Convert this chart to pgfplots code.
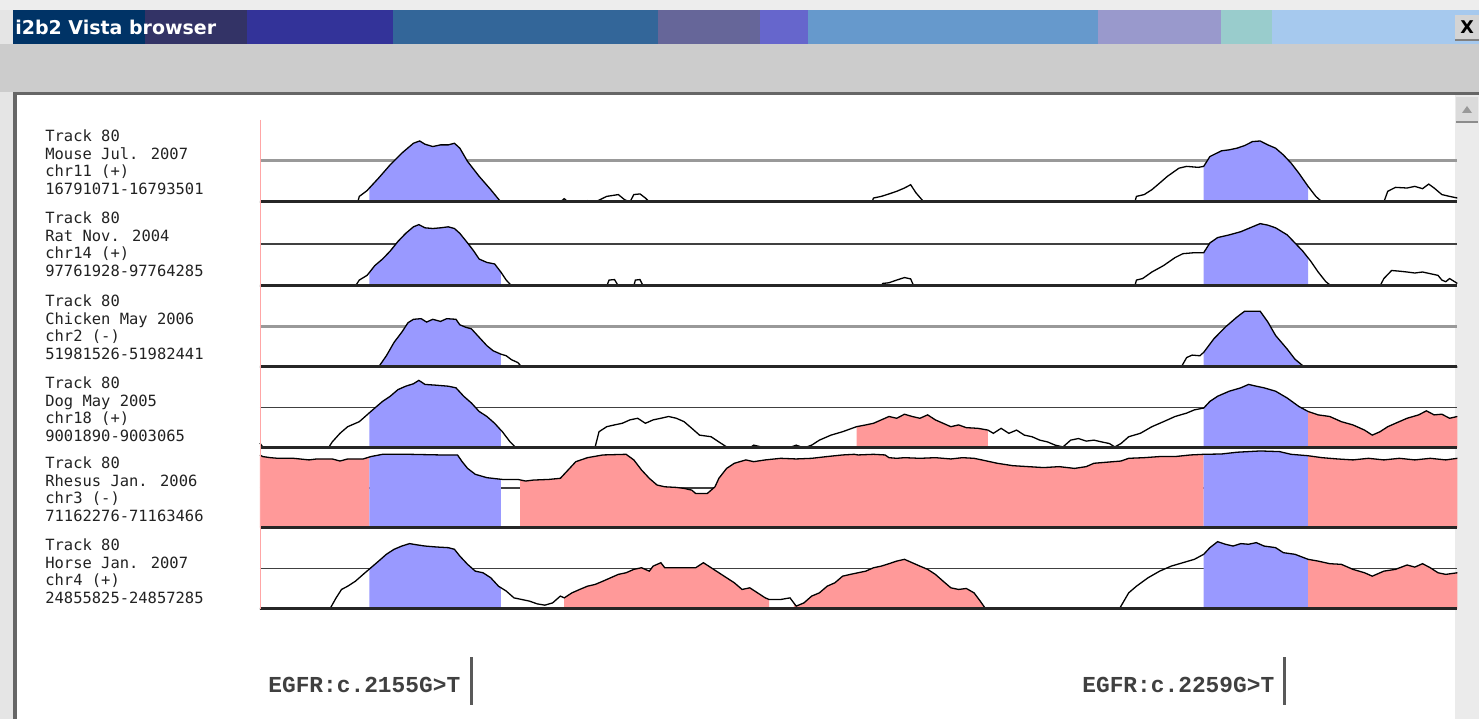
\documentclass[border=0pt]{standalone}
\usepackage{pgfplots}
\pgfplotsset{compat=1.18}
\usepackage{pgfplotstable}
\usepackage{fontspec}
\newfontfamily\labelfont{DejaVu Sans Mono}
\newfontfamily\titlefont{DejaVu Sans}
\newfontfamily\codefont{Liberation Mono}
\definecolor{vblue}{HTML}{9999FF}
\definecolor{vpink}{HTML}{FF9999}
\definecolor{tb1}{HTML}{003366}
\definecolor{tb2}{HTML}{333366}
\definecolor{tb3}{HTML}{333399}
\definecolor{tb4}{HTML}{336699}
\definecolor{tb5}{HTML}{666699}
\definecolor{tb6}{HTML}{6666CC}
\definecolor{tb7}{HTML}{6699CC}
\definecolor{tb8}{HTML}{9999CC}
\definecolor{tb9}{HTML}{99CCCC}
\definecolor{tb10}{HTML}{A6C9EE}
\definecolor{chrome}{HTML}{CCCCCC}
\definecolor{labgray}{HTML}{222222}

% conservation curves: x = alignment position, y = % identity (50-100)
\pgfplotstableread{
x y
6.5 50
133 50
135 53.4
145 56.9
148 58.5
150 59.5
160 64.6
175 72.7
190 79.8
205 85.8
213 87.2
220 85.2
230 83.8
240 84.8
250 84.8
258 85.8
265 82.8
275 74.7
290 65.6
305 57.5
318 50
395 50
400 52.0
405 50
430 50.8
440 50
455 53.4
470 54.5
478 51.4
485 50
490 54.5
498 54.9
505 52.4
510 50
798 50
800 52.4
810 53.4
820 54.9
830 56.5
840 58.5
848 60.5
855 55.5
865 50
1138 50
1140 53.4
1150 54.5
1160 57.5
1170 61.5
1180 65.6
1195 70.6
1205 71.7
1220 71.1
1227 71.7
1235 77.7
1250 81.2
1260 81.8
1270 82.8
1280 84.4
1290 86.8
1300 87.2
1310 84.8
1320 82.8
1330 78.7
1340 73.7
1350 67.6
1362 59.5
1372 53.4
1380 50
1460 50
1465 56.5
1475 58.9
1490 58.5
1500 59.5
1510 58.1
1518 60.9
1525 58.5
1535 54.5
1545 53.4
1555 52.4
}\tMouse

\pgfplotstableread{
x y
6.5 50
130 50
135 53.5
145 56.3
148 58.0
155 62.1
165 66.0
175 70.8
185 76.5
195 81.3
205 85.2
212 86.5
220 84.6
230 84.2
240 84.6
250 85.2
258 84.2
265 81.3
275 75.6
283 70.8
290 66.0
300 64.0
310 63.1
318 58.3
325 53.5
332 50
455 50
458 53.5
465 53.8
470 50
490 50
492 53.5
498 53.8
502 50
810 50
812 51.5
820 51.9
830 53.5
840 55.0
848 54.2
852 50
1138 50
1140 53.5
1148 54.4
1160 58.3
1175 62.1
1190 66.9
1200 69.2
1215 69.8
1227 69.8
1235 75.6
1245 78.8
1260 80.4
1275 82.3
1290 85.2
1300 87.1
1310 86.2
1320 84.6
1335 80.4
1345 75.6
1355 70.8
1362 66.7
1365 65.0
1375 58.3
1385 52.5
1392 50
1455 50
1460 54.4
1470 59.2
1480 58.8
1490 58.3
1500 57.7
1510 58.3
1520 57.3
1530 56.3
1535 53.5
1540 52.5
1545 54.4
1555 51.5
}\tRat

\pgfplotstableread{
x y
6.5 50
148 50
160 50
170 56.9
180 65.2
190 71.5
198 77.3
205 79.4
215 79.8
222 77.7
230 79.4
240 78.1
248 79.8
260 79.4
265 76.0
272 74.6
280 73.5
290 68.3
300 63.1
308 60.0
318 57.9
325 56.9
332 54.4
340 52.7
345 50
1198 50
1205 55.8
1212 57.3
1222 56.9
1227 59.0
1240 67.3
1255 74.6
1270 80.8
1280 84.4
1300 84.4
1310 77.7
1320 69.4
1335 61.0
1345 54.8
1357 50
1362 50
1555 50
}\tChicken

\pgfplotstableread{
x y
6.5 53.0
10 50.6
15 50
95 50
100 53.7
110 59.0
120 63.1
135 66.2
145 70.4
148 71.7
155 74.6
165 78.7
175 81.9
185 86.0
195 88.1
205 89.6
212 91.7
220 89.2
235 88.7
250 88.1
260 87.1
270 81.9
280 77.7
290 72.5
300 69.4
310 65.2
318 61.0
320 60.0
330 53.7
338 50
438 50
440 50.6
445 60.0
455 63.1
465 64.2
475 65.2
485 67.3
495 68.3
505 65.2
515 67.3
525 68.3
535 69.4
545 68.3
555 66.2
565 62.1
575 57.9
590 56.9
600 53.7
612 50
640 50
645 51.7
655 50.6
665 50
675 50.6
690 50
700 51.7
710 50
720 51.7
730 54.8
745 57.9
760 60.0
778 63.1
790 64.2
800 65.2
810 67.3
820 69.4
830 68.3
840 70.8
850 69.4
860 68.3
870 70.4
880 67.3
890 65.2
900 63.1
910 64.2
920 62.5
935 62.1
948 61.0
955 59.0
965 62.1
975 59.0
985 61.0
995 57.9
1005 56.9
1015 54.8
1025 53.7
1035 51.7
1045 50.6
1055 54.8
1065 55.8
1075 54.2
1085 54.8
1095 53.7
1105 52.7
1112 50.6
1120 52.7
1130 56.9
1145 59.0
1160 63.1
1175 66.2
1190 69.4
1205 71.5
1215 73.5
1227 74.6
1235 78.7
1245 81.9
1260 85.0
1275 87.1
1285 89.2
1295 88.1
1305 87.1
1320 85.0
1335 80.8
1350 75.6
1362 72.5
1375 70.4
1390 69.4
1405 66.2
1420 64.2
1435 61.0
1445 57.9
1455 60.0
1465 63.1
1475 65.2
1490 68.3
1505 70.4
1515 72.9
1525 70.4
1535 70.8
1545 68.3
1555 69.4
}\tDog

\pgfplotstableread{
x y
6.5 95.6
10 94.6
20 93.9
30 93.5
50 93.5
70 92.5
80 93.1
100 93.1
110 91.8
120 93.1
140 93.1
148 94.3
150 94.6
165 96.0
200 96.0
240 95.6
262 95.6
268 91.4
275 87.2
285 83.5
300 81.4
318 80.4
320 80.3
340 80.3
343 80.0
350 79.3
360 79.9
380 80.3
395 81.0
405 86.2
415 91.4
430 93.9
450 95.6
480 96.0
490 92.5
500 86.2
510 81.0
520 76.8
530 75.7
545 75.3
555 74.7
565 73.6
570 71.5
585 71.5
595 75.7
600 81.0
610 87.2
620 90.4
635 92.5
645 91.4
660 92.5
680 93.5
700 93.1
720 93.5
740 94.6
760 95.6
775 96.0
780 95.6
800 96.0
815 95.6
820 93.9
830 93.5
840 93.9
860 93.5
880 93.9
900 93.1
915 93.9
930 93.5
940 92.5
960 90.4
980 88.9
1000 88.3
1020 87.7
1040 88.3
1060 87.2
1075 88.3
1085 90.4
1100 91.0
1120 91.8
1130 93.5
1150 93.9
1170 94.6
1190 94.6
1210 95.6
1227 96.0
1250 96.2
1270 97.3
1300 98.1
1325 97.7
1340 96.0
1360 95.2
1362 95.1
1380 93.9
1400 93.1
1420 92.5
1440 93.5
1460 92.5
1480 93.5
1500 92.5
1520 93.5
1540 92.5
1555 93.5
}\tRhesus

\pgfplotstableread{
x y
6.5 50
95 50
97 50
105 56.8
112 62.0
120 64.0
130 67.1
140 71.3
148 74.6
150 75.4
160 79.5
170 83.7
180 86.8
190 88.8
200 90.3
210 89.5
220 88.8
235 88.2
250 87.8
258 86.8
265 82.6
275 77.5
285 73.3
295 72.3
305 69.2
315 64.0
318 63.1
325 61.0
335 56.8
345 55.8
355 54.8
365 53.1
375 52.3
385 53.7
395 57.9
400 56.8
410 59.9
420 62.0
430 64.0
440 65.1
450 67.1
460 69.2
470 71.3
480 72.3
490 74.4
500 75.4
510 73.3
515 76.4
525 78.5
530 75.4
540 75.4
555 75.4
570 75.4
580 78.5
590 75.4
600 72.3
610 69.2
620 66.1
630 62.0
640 63.0
650 59.9
660 56.8
665 55.8
680 55.8
692 56.8
697 53.6
700 51.7
710 53.7
720 57.9
730 59.9
740 64.0
750 66.1
760 70.2
770 71.3
780 72.3
790 73.3
800 75.4
810 76.4
820 77.9
830 79.5
840 80.6
850 78.5
860 76.4
870 74.4
880 71.3
890 67.1
900 63.0
910 62.0
920 62.6
930 59.9
938 54.8
945 50
1118 50
1120 51.7
1130 59.9
1140 64.0
1155 69.2
1170 73.3
1185 76.4
1200 78.5
1215 80.6
1227 83.7
1235 87.8
1245 91.5
1255 89.9
1265 88.8
1275 90.3
1285 89.9
1295 90.9
1305 88.8
1320 87.8
1330 84.7
1345 83.7
1362 80.6
1375 79.5
1390 77.9
1405 77.5
1420 74.4
1435 72.3
1445 70.2
1460 73.3
1475 74.4
1490 77.1
1500 75.8
1510 77.9
1520 75.4
1530 72.3
1540 71.3
1555 72.3
}\tHorse

\pgfplotsset{
  trk/.style={anchor=south west, width=23.952cm, scale only axis,
    xmin=6.5, xmax=1555, ymin=50, ymax=100, hide axis, clip=false},
  curve/.style={black, line width=0.026cm},
  basel/.style={black!85, line width=0.06cm},
  midl/.style={black!75, line width=0.035cm},
  midg/.style={black!40, line width=0.06cm},
  fb/.style={fill=vblue, draw=none, restrict x to domain=#1},
  fp/.style={fill=vpink, draw=none, restrict x to domain=#1},
}

\begin{document}
\begin{tikzpicture}
\begin{scope}[x=0.02cm,y=-0.02cm]
\useasboundingbox (0,0) rectangle (1479,719);
\fill[black!10] (0,0) rectangle (1479,719);
\fill[black!7] (0,0) rectangle (1479,10);
\fill[tb1] (13,10) rectangle (145,44);
\fill[tb2] (145,10) rectangle (247,44);
\fill[tb3] (247,10) rectangle (393,44);
\fill[tb4] (393,10) rectangle (658,44);
\fill[tb5] (658,10) rectangle (760,44);
\fill[tb6] (760,10) rectangle (808,44);
\fill[tb7] (808,10) rectangle (1098,44);
\fill[tb8] (1098,10) rectangle (1221,44);
\fill[tb9] (1221,10) rectangle (1272,44);
\fill[tb10] (1272,10) rectangle (1479,44);
\node[anchor=base west, inner sep=0, text=white,
  font=\titlefont\bfseries\fontsize{10.8}{12}\selectfont] at (15,35) {i2b2 Vista browser};
\fill[black!17] (1455,15) rectangle (1479,40);
\draw[black!50, line width=0.03cm] (1455,40) -- (1479,40);
\node[inner sep=0, font=\titlefont\bfseries\fontsize{10}{12}\selectfont] at (1467,27.5) {X};
\fill[chrome] (0,44) rectangle (1479,92);
\fill[black!60] (13,92) rectangle (1479,95);
\fill[black!60] (13,92) rectangle (17,719);
\fill[white] (17,95) rectangle (1455,719);
\fill[black!8] (1455,95) rectangle (1479,719);
\fill[black!14] (1456,97) rectangle (1478,122);
\draw[black!45, line width=0.03cm] (1456,122) -- (1478,122);
\fill[black!40] (1462,113) -- (1472,113) -- (1467,106) -- cycle;
% track labels
\foreach \yy/\la/\lb/\lc/\ld in {
  136/{Track 80}/{Mouse Jul. 2007}/{chr11 (+)}/{16791071-16793501},
  218/{Track 80}/{Rat Nov. 2004}/{chr14 (+)}/{97761928-97764285},
  301/{Track 80}/{Chicken May 2006}/{chr2 (-)}/{51981526-51982441},
  383/{Track 80}/{Dog May 2005}/{chr18 (+)}/{9001890-9003065},
  463/{Track 80}/{Rhesus Jan. 2006}/{chr3 (-)}/{71162276-71163466},
  545/{Track 80}/{Horse Jan. 2007}/{chr4 (+)}/{24855825-24857285}}{
  \begin{scope}[every node/.style={anchor=base west, inner sep=0, text=labgray,
      font=\labelfont\fontsize{8.8}{10}\selectfont}]
  \node at (45,\yy+5.5) {\la};
  \node at (45,\yy+23.1) {\lb};
  \node at (45,\yy+40.7) {\lc};
  \node at (45,\yy+58.3) {\ld};
  \end{scope}
}
% variant markers
\node[anchor=base west, inner sep=0, text=black!75,
  font=\codefont\bfseries\fontsize{13}{15}\selectfont] at (268,692) {EGFR:c.2155G>T};
\fill[black!65] (469.5,657) rectangle (472.5,705);
\node[anchor=base west, inner sep=0, text=black!75,
  font=\codefont\bfseries\fontsize{13}{15}\selectfont] at (1082,692) {EGFR:c.2259G>T};
\fill[black!65] (1282.5,657) rectangle (1285.5,705);
\end{scope}

% ---- Mouse
\begin{axis}[trk, at={(5.2cm,-4.04cm)}, height=1.64cm]
\addplot[midg] coordinates {(6.5,75) (1555,75)};
\addplot[fb=148:318] table {\tMouse} \closedcycle;
\addplot[fb=1227:1362] table {\tMouse} \closedcycle;
\addplot[curve] table {\tMouse};
\addplot[basel] coordinates {(6.5,50) (1555,50)};
\end{axis}

% ---- Rat
\begin{axis}[trk, at={(5.2cm,-5.72cm)}, height=1.68cm]
\addplot[midl] coordinates {(6.5,75) (1555,75)};
\addplot[fb=148:318] table {\tRat} \closedcycle;
\addplot[fb=1227:1362] table {\tRat} \closedcycle;
\addplot[curve] table {\tRat};
\addplot[basel] coordinates {(6.5,50) (1555,50)};
\end{axis}

% ---- Chicken
\begin{axis}[trk, at={(5.2cm,-7.34cm)}, height=1.62cm]
\addplot[midg] coordinates {(6.5,75) (1555,75)};
\addplot[fb=148:318] table {\tChicken} \closedcycle;
\addplot[fb=1227:1362] table {\tChicken} \closedcycle;
\addplot[curve] table {\tChicken};
\addplot[basel] coordinates {(6.5,50) (1555,50)};
\end{axis}

% ---- Dog
\begin{axis}[trk, at={(5.2cm,-8.96cm)}, height=1.62cm]
\addplot[midl] coordinates {(6.5,75) (1555,75)};
\addplot[fb=148:318] table {\tDog} \closedcycle;
\addplot[fb=1227:1362] table {\tDog} \closedcycle;
\addplot[fp=778:948] table {\tDog} \closedcycle;
\addplot[fp=1362:1555] table {\tDog} \closedcycle;
\addplot[curve] table {\tDog};
\addplot[basel] coordinates {(6.5,50) (1555,50)};
\end{axis}

% ---- Rhesus
\begin{axis}[trk, at={(5.2cm,-10.56cm)}, height=1.6cm]
\addplot[midl] coordinates {(6.5,75) (1555,75)};
\addplot[fp=6.5:148] table {\tRhesus} \closedcycle;
\addplot[fb=148:318] table {\tRhesus} \closedcycle;
\addplot[fp=343:1227] table {\tRhesus} \closedcycle;
\addplot[fb=1227:1362] table {\tRhesus} \closedcycle;
\addplot[fp=1362:1555] table {\tRhesus} \closedcycle;
\addplot[curve] table {\tRhesus};
\addplot[basel] coordinates {(6.5,50) (1555,50)};
\end{axis}

% ---- Horse
\begin{axis}[trk, at={(5.2cm,-12.18cm)}, height=1.62cm]
\addplot[midl] coordinates {(6.5,75) (1555,75)};
\addplot[fb=148:318] table {\tHorse} \closedcycle;
\addplot[fb=1227:1362] table {\tHorse} \closedcycle;
\addplot[fp=400:665] table {\tHorse} \closedcycle;
\addplot[fp=697:945] table {\tHorse} \closedcycle;
\addplot[fp=1362:1555] table {\tHorse} \closedcycle;
\addplot[curve] table {\tHorse};
\addplot[basel] coordinates {(6.5,50) (1555,50)};
\end{axis}

\begin{scope}[x=0.02cm,y=-0.02cm]
\draw[red!35, line width=0.02cm] (260,120) -- (260,609);
\end{scope}
\end{tikzpicture}
\end{document}
